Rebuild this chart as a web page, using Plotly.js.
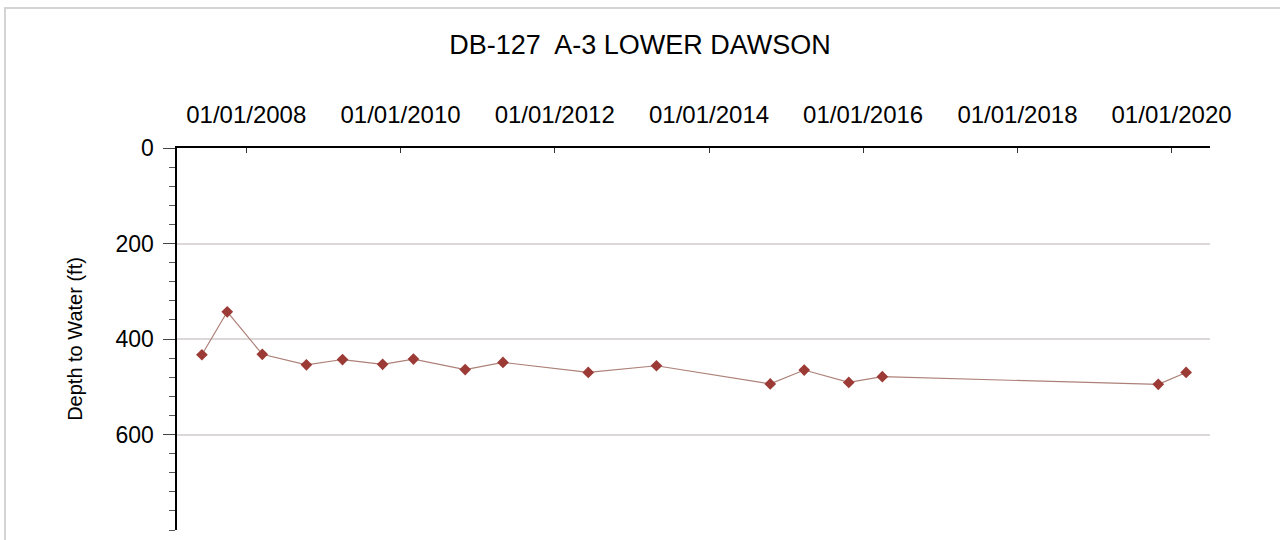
<!DOCTYPE html>
<html>
<head>
<meta charset="utf-8">
<script src="https://cdn.plot.ly/plotly-3.0.1.min.js"></script>
<style>
  html, body { margin: 0; padding: 0; background: #fff; }
  #chart { width: 1280px; height: 540px; }
</style>
</head>
<body>
<div id="chart"></div>
<script>
const dates = [
  "2007-06-05", "2007-10-03", "2008-03-17", "2008-10-12", "2009-04-01",
  "2009-10-08", "2010-03-03", "2010-11-03", "2011-05-01", "2012-06-08",
  "2013-04-27", "2014-10-18", "2015-03-28", "2015-10-25", "2016-04-01",
  "2019-10-30", "2020-03-10"
];
// Depth to water (ft)
const depthFt = [
  433, 343, 432, 454, 443,
  453, 442, 464, 449, 470,
  456, 494, 465, 491, 479,
  495, 470
];
const titleText = "DB-127  A-3 LOWER DAWSON";
const yTitleText = "Depth to Water (ft)";
const yTickVals = [0, 200, 400, 600];

const font = "Arial, 'Liberation Sans', sans-serif";

const trace = {
  x: dates,
  y: depthFt,
  type: "scatter",
  mode: "lines+markers",
  line: { color: "#ad8078", width: 1.2 },
  marker: { symbol: "diamond", size: 9, color: "#9c3b36", line: { width: 0 } },
  hoverinfo: "x+y"
};

const layout = {
  width: 1280,
  height: 540,
  margin: { l: 177, r: 70, t: 148, b: 10, pad: 0 },
  paper_bgcolor: "#ffffff",
  plot_bgcolor: "#ffffff",
  showlegend: false,
  font: { family: font, color: "#000" },
  title: {
    text: titleText,
    font: { family: font, size: 27, color: "#000" },
    x: 0.5, xref: "container", xanchor: "center",
    y: 1 - 45 / 540, yref: "container", yanchor: "middle"
  },
  xaxis: {
    type: "date",
    side: "top",
    range: ["2007-02-07", "2020-07-01"],
    tick0: "2008-01-01",
    dtick: "M24",
    tickformat: "%m/%d/%Y",
    ticks: "inside",
    ticklen: 5,
    tickwidth: 1,
    tickcolor: "#333",
    ticklabelstandoff: 13,
    tickfont: { family: font, size: 24, color: "#000" },
    showline: true,
    linecolor: "#000",
    linewidth: 2.5,
    showgrid: false,
    zeroline: false,
    mirror: false,
    fixedrange: true
  },
  yaxis: {
    range: [800, 0],
    tickvals: yTickVals,
    ticks: "outside",
    ticklen: 12,
    tickwidth: 1,
    tickcolor: "#444",
    ticklabelstandoff: 4,
    tickfont: { family: font, size: 23, color: "#000" },
    minor: { dtick: 40, tick0: 0, ticks: "outside", ticklen: 6, tickwidth: 1, tickcolor: "#555", showgrid: false },
    showline: true,
    linecolor: "#000",
    linewidth: 2.5,
    showgrid: true,
    gridcolor: "#dcd8d8",
    gridwidth: 2,
    zeroline: false,
    mirror: false,
    fixedrange: true,
    title: {
      text: yTitleText,
      font: { family: font, size: 20, color: "#000" },
      standoff: 28
    }
  },
  shapes: [
    {
      type: "path",
      xref: "paper", yref: "paper",
      path: "M -0.1665,-0.05 L -0.1665,1.3665 L 1.07,1.3665",
      line: { color: "#d4d4d4", width: 2 },
      layer: "below"
    }
  ]
};

Plotly.newPlot("chart", [trace], layout, { displayModeBar: false, staticPlot: true });
</script>
</body>
</html>
